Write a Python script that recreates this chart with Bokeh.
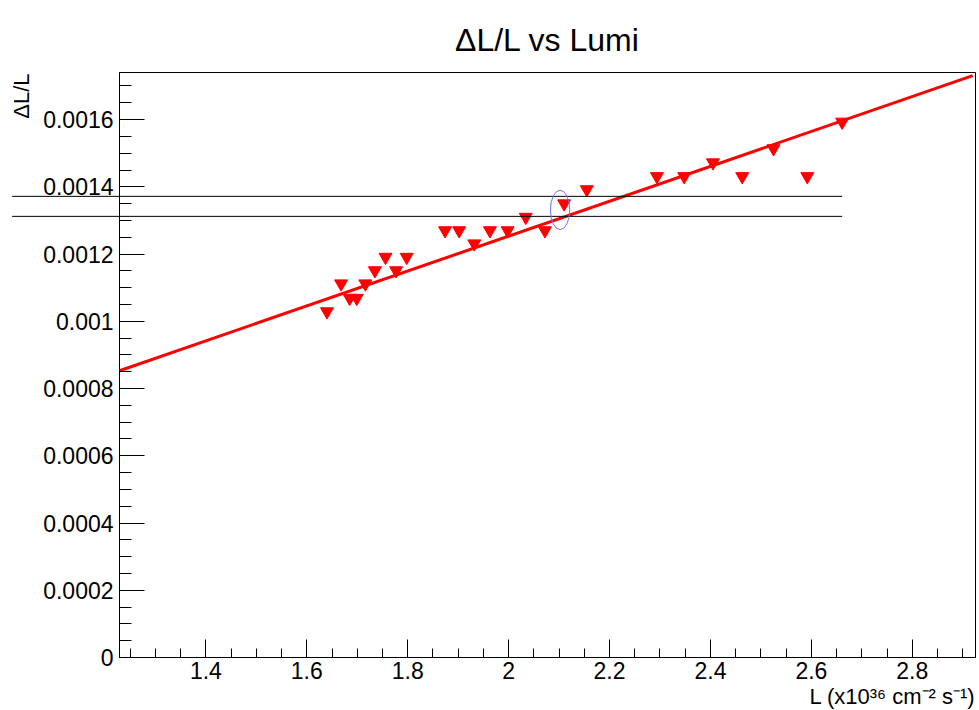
import numpy as np
from bokeh.plotting import figure
from bokeh.layouts import row
from bokeh.models import FixedTicker, Title, Range1d, ColumnDataSource
from bokeh.core.properties import value
from bokeh.embed import file_html
from bokeh.resources import INLINE

# ---- data ----
lumi = [1.640, 1.668, 1.685, 1.699, 1.716, 1.735, 1.756, 1.777, 1.798,
        1.874, 1.902, 1.932, 1.963, 1.998, 2.034, 2.072, 2.110, 2.155,
        2.294, 2.348, 2.405, 2.463, 2.525, 2.592, 2.661]
dl_over_l = [0.001029, 0.001112, 0.001069, 0.001069, 0.001112, 0.001151,
             0.001191, 0.001151, 0.001191, 0.001270, 0.001270, 0.001231,
             0.001270, 0.001270, 0.001310, 0.001270, 0.001350, 0.001392,
             0.001431, 0.001431, 0.001472, 0.001431, 0.001514, 0.001431,
             0.001593]

fit_intercept = 0.0002151
fit_slope = 0.0005191
fit_x = [1.2288, 2.9197]

cut_levels = [0.0013716, 0.0013121]
cut_x = [1.016, 2.661]

highlight_x = [2.102]
highlight_y = [0.0013312]
highlight_w = [0.0383]
highlight_h = [0.000117]

x_ticks = [1.4, 1.6, 1.8, 2.0, 2.2, 2.4, 2.6, 2.8]
x_tick_labels = ["1.4", "1.6", "1.8", "2", "2.2", "2.4", "2.6", "2.8"]
y_ticks = [0, 0.0002, 0.0004, 0.0006, 0.0008, 0.001, 0.0012, 0.0014, 0.0016]
y_tick_labels = ["0", "0.0002", "0.0004", "0.0006", "0.0008", "0.001",
                 "0.0012", "0.0014", "0.0016"]

x_minor = [round(v, 3) for v in np.arange(1.25, 2.95, 0.05)]
y_minor = [round(v, 6) for v in np.arange(0, 0.00175, 0.00005)]

FONT = "Liberation Sans"
X_START, X_END = 1.2288, 2.9253
Y_START, Y_END = 0.0, 0.00174
LEFT_W = 119
MAIN_W = 979 - LEFT_W
H = 710
TOP, BOTTOM, RIGHT = 72, 53, 4

y_range = Range1d(Y_START, Y_END)
px_per_unit = (MAIN_W - RIGHT) / (X_END - X_START)
frame_h = H - TOP - BOTTOM
y_per_px = (Y_END - Y_START) / frame_h

# ---------------- main plot ----------------
p = figure(width=MAIN_W, height=H,
           x_range=Range1d(X_START, X_END), y_range=y_range,
           output_backend="svg", toolbar_location=None,
           min_border_left=0, min_border_right=RIGHT,
           min_border_top=TOP, min_border_bottom=BOTTOM)
p.frame_align = False

p.title = Title(text="ΔL/L vs Lumi", align="center", text_font=FONT,
                text_font_size="32px", text_font_style="normal",
                text_color="black", standoff=30)

p.xgrid.visible = False
p.ygrid.visible = False
p.outline_line_color = "black"
p.outline_line_width = 1
p.outline_line_alpha = 1
p.background_fill_color = "white"
p.border_fill_color = "white"

xa = p.xaxis[0]
xa.ticker = FixedTicker(ticks=x_ticks, minor_ticks=x_minor)
xa.major_label_overrides = {t: l for t, l in zip(x_ticks, x_tick_labels)}
xa.major_tick_in = 18
xa.major_tick_out = 0
xa.minor_tick_in = 9
xa.minor_tick_out = 0
xa.major_label_standoff = 4
xa.major_label_text_font = FONT
xa.major_label_text_font_size = "23px"
xa.major_label_text_color = "black"

ya = p.yaxis[0]
ya.ticker = FixedTicker(ticks=y_ticks, minor_ticks=y_minor)
ya.major_tick_in = 25
ya.major_tick_out = 0
ya.minor_tick_in = 12
ya.minor_tick_out = 0
ya.major_label_standoff = 0
ya.major_label_text_font_size = "0px"
ya.major_label_overrides = {t: "" for t in y_ticks}

for ax in (xa, ya):
    ax.axis_line_color = "black"
    ax.major_tick_line_color = "black"
    ax.minor_tick_line_color = "black"

p.add_layout(Title(text="L (x10³⁶ cm⁻² s⁻¹)", align="right", text_font=FONT,
                   text_font_size="22px", text_font_style="normal",
                   text_color="black", standoff=0), "below")

p.scatter(lumi, dl_over_l, marker="inverted_triangle", size=13,
          fill_color="red", line_color="red")

fit_y = [fit_intercept + fit_slope * x for x in fit_x]
p.line(fit_x, fit_y, line_color="red", line_width=3)

cut_src = ColumnDataSource(dict(x0=[cut_x[0]] * len(cut_levels),
                                x1=[cut_x[1]] * len(cut_levels),
                                y=cut_levels))
p.segment(x0="x0", y0="y", x1="x1", y1="y", source=cut_src,
          line_color="black", line_width=1)

p.ellipse(x=highlight_x, y=highlight_y, width=highlight_w, height=highlight_h,
          fill_color=None, line_color="#7070ff", line_width=1)

# ---------------- left strip: y tick labels, y title, line stubs -------------
# its frame reaches the canvas bottom so the "0" label is not clipped,
# with the same pixel scale as the main plot
left = figure(width=LEFT_W, height=H,
              x_range=Range1d(X_START - LEFT_W / px_per_unit, X_START),
              y_range=Range1d(Y_START - BOTTOM * y_per_px, Y_END),
              output_backend="svg", toolbar_location=None,
              x_axis_location=None, y_axis_location=None,
              min_border_left=0, min_border_right=0,
              min_border_top=TOP, min_border_bottom=0)
left.frame_align = False
left.xgrid.visible = False
left.ygrid.visible = False
left.outline_line_color = None
left.background_fill_color = "white"
left.border_fill_color = "white"

left.text(x=[X_START] * len(y_ticks), y=y_ticks, text=y_tick_labels,
          x_offset=-6, text_align="right", text_baseline="middle",
          text_font=value(FONT), text_font_size="23px", text_color="black")

left.text(x=[X_START - LEFT_W / px_per_unit], y=[Y_END], text=["ΔL/L"],
          x_offset=21, y_offset=1, angle=np.pi / 2,
          text_align="right", text_baseline="alphabetic",
          text_font=value(FONT), text_font_size="22px", text_color="black")

left.segment(x0="x0", y0="y", x1="x1", y1="y", source=cut_src,
             line_color="black", line_width=1)

layout = row(left, p, spacing=0)

open("out.html", "w").write(file_html(layout, INLINE))
